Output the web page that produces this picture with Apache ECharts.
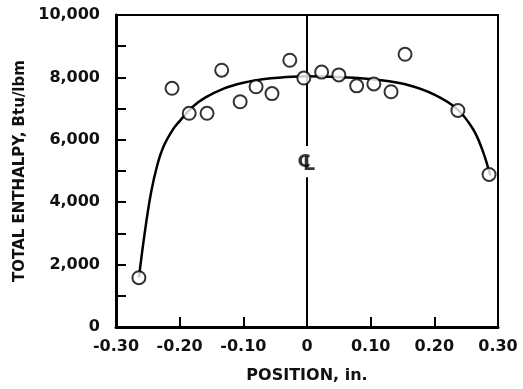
<!DOCTYPE html>
<html><head><meta charset="utf-8">
<script src="https://cdn.jsdelivr.net/npm/echarts@6/dist/echarts.min.js"></script>
<style>html,body{margin:0;padding:0;background:#fff}#c{width:523px;height:389px}</style>
</head><body><div id="c"></div>
<script>
// Measured points: position (in.) and total enthalpy (Btu/lbm)
const position = [-0.264, -0.212, -0.185, -0.157, -0.134, -0.105, -0.080, -0.055, -0.027, -0.005, 0.023, 0.050, 0.078, 0.105, 0.132, 0.154, 0.237, 0.286];
const enthalpy = [1580, 7650, 6850, 6850, 8230, 7220, 7700, 7480, 8550, 7980, 8170, 8080, 7730, 7790, 7540, 8740, 6940, 4890];
// Faired curve
const curveX = [-0.264, -0.255, -0.245, -0.235, -0.225, -0.21, -0.20, -0.18, -0.16, -0.13, -0.10, -0.07, -0.04, 0, 0.04, 0.08, 0.12, 0.16, 0.20, 0.235, 0.26, 0.275, 0.288];
const curveY = [1580, 3000, 4300, 5200, 5800, 6350, 6600, 7050, 7350, 7650, 7830, 7940, 8000, 8040, 8020, 7980, 7900, 7750, 7450, 7000, 6370, 5700, 4850];
// Centre line (x = 0) with gap for the centre-line symbol
const centerUpper = [[0, 10000], [0, 5800]];
const centerLower = [[0, 4800], [0, 0]];
const centerSymbolPos = [[0, 5250]];
const xTitle = 'POSITION, in.';
const yTitle = 'TOTAL ENTHALPY, Btu/lbm';

const FONT = "'DejaVu Sans', sans-serif";
const chart = echarts.init(document.getElementById('c'), null, {renderer: 'canvas'});
const fmtX = v => Math.abs(v) < 1e-9 ? '0' : v.toFixed(2);
const fmtY = v => String(Math.round(v)).replace(/\B(?=(\d{3})+(?!\d))/g, ',');
const markLabel = (txt, off, size) => ({
  type: 'scatter', data: centerSymbolPos, symbol: 'circle', symbolSize: 0, silent: true, z: 4,
  itemStyle: {color: 'rgba(0,0,0,0)'},
  label: {show: true, position: 'inside', formatter: txt, offset: off, fontSize: size, fontWeight: 'bold', fontFamily: FONT, color: '#000'}
});

chart.setOption({
  animation: false,
  backgroundColor: '#fff',
  grid: {left: 116, right: 25, top: 15, bottom: 57, show: true, borderColor: '#000', borderWidth: 2, backgroundColor: 'transparent'},
  xAxis: {
    type: 'value', min: -0.3, max: 0.3, interval: 0.1,
    name: xTitle, nameLocation: 'middle', nameGap: 41,
    nameTextStyle: {fontFamily: FONT, fontWeight: 'bold', fontSize: 16, color: '#111'},
    axisLine: {show: true, onZero: false, lineStyle: {color: '#000', width: 3}},
    axisTick: {show: true, inside: true, length: 10, lineStyle: {color: '#000', width: 2}},
    axisLabel: {formatter: fmtX, margin: 12, fontFamily: FONT, fontWeight: 'bold', fontSize: 16, color: '#111'},
    splitLine: {show: false}
  },
  yAxis: {
    type: 'value', min: 0, max: 10000, interval: 2000,
    name: yTitle, nameLocation: 'middle', nameRotate: 90, nameGap: 88,
    nameTextStyle: {fontFamily: FONT, fontWeight: 'bold', fontSize: 15, color: '#111'},
    axisLine: {show: true, onZero: false, lineStyle: {color: '#000', width: 3}},
    axisTick: {show: true, inside: true, length: 10, lineStyle: {color: '#000', width: 2}},
    minorTick: {show: true, splitNumber: 2, length: 10, lineStyle: {color: '#000', width: 2}},
    axisLabel: {formatter: fmtY, margin: 16, fontFamily: FONT, fontWeight: 'bold', fontSize: 16, color: '#111'},
    splitLine: {show: false}
  },
  series: [
    {type: 'line', data: centerUpper, symbol: 'none', lineStyle: {color: '#000', width: 2}, z: 1, silent: true},
    {type: 'line', data: centerLower, symbol: 'none', lineStyle: {color: '#000', width: 2}, z: 1, silent: true},
    {type: 'line', data: curveX.map((x, i) => [x, curveY[i]]), smooth: 0.4, symbol: 'none', lineStyle: {color: '#000', width: 2.5}, z: 2, silent: true},
    {type: 'scatter', data: position.map((x, i) => [x, enthalpy[i]]), symbol: 'circle', symbolSize: 13,
     itemStyle: {color: '#fff', borderColor: '#000', borderWidth: 2}, z: 3, silent: true},
    markLabel('C', [-3, -1], 18),
    markLabel('L', [2, 2], 19)
  ]
});
</script></body></html>
